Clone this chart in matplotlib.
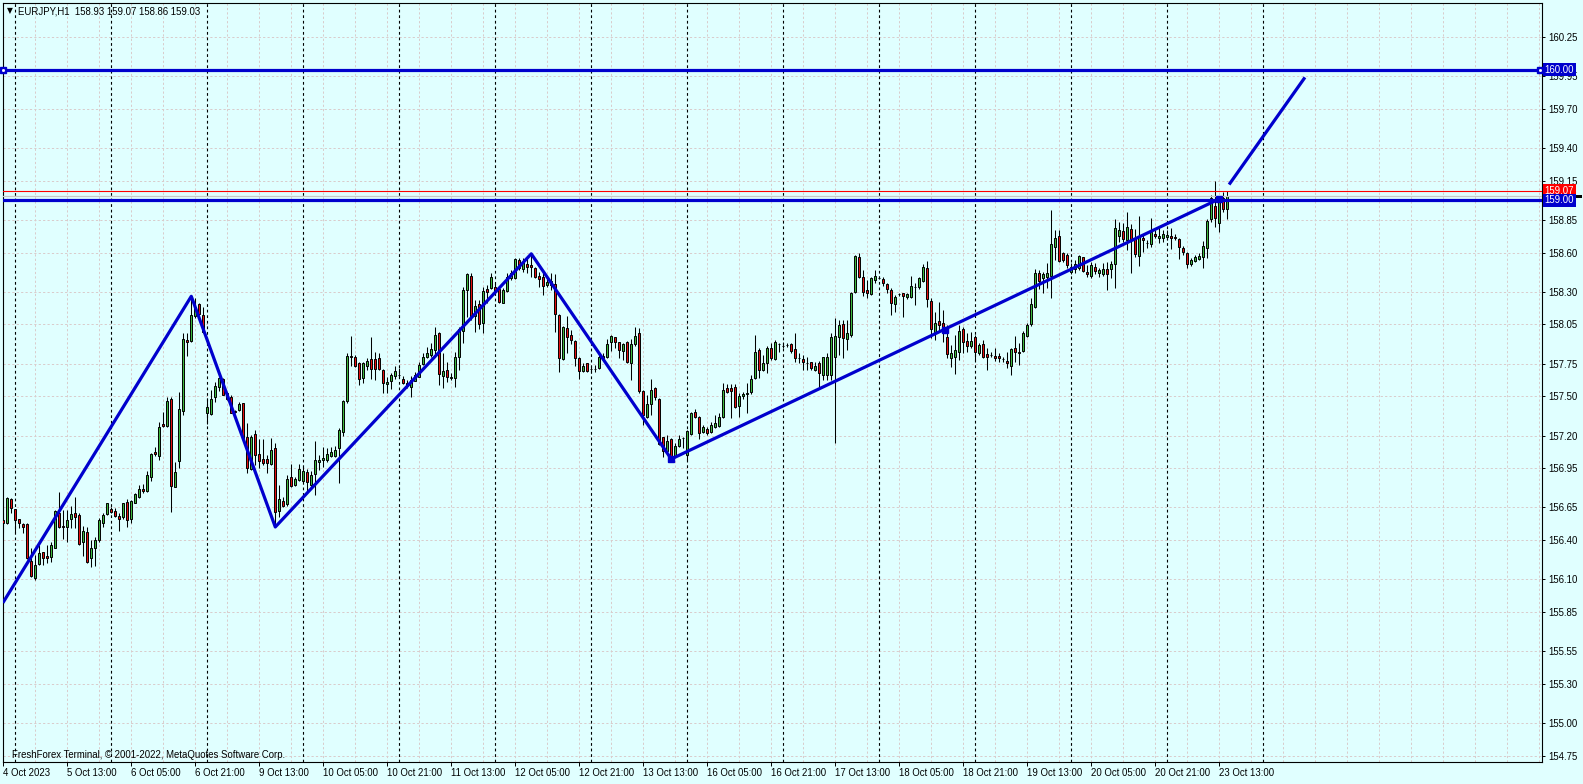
import numpy as np
import matplotlib
matplotlib.use('Agg')
import matplotlib.pyplot as plt
from matplotlib.patches import Rectangle
from matplotlib import transforms

W, H, DPI = 1583, 784, 100
plt.rcParams['font.family'] = ['Liberation Sans', 'DejaVu Sans']

# --- data (EURJPY H1, bar 0 = 4 Oct 21:00) ---
header = 'EURJPY,H1  158.93 159.07 158.86 159.03'
footer = 'FreshForex Terminal, \u00a9 2001-2022, MetaQuotes Software Corp.'

opens = [
    156.553, 156.528, 156.712, 156.635, 156.558, 156.520, 156.520, 156.243, 156.112, 156.214,
    156.306, 156.278, 156.268, 156.342, 156.604, 156.507, 156.497, 156.558, 156.604, 156.589,
    156.388, 156.459, 156.265, 156.342, 156.400, 156.533, 156.597, 156.635, 156.622, 156.584,
    156.579, 156.694, 156.564, 156.686, 156.732, 156.788, 156.775, 156.885, 157.074, 157.046,
    157.285, 157.273, 157.477, 156.808, 157.007, 157.390, 157.930, 157.923, 158.114, 158.206,
    158.122, 157.375, 157.364, 157.492, 157.568, 157.632, 157.522, 157.492, 157.390, 157.395,
    157.446, 157.186, 156.941, 157.209, 157.056, 157.020, 157.020, 156.980, 157.102, 156.625,
    156.699, 156.673, 156.880, 156.821, 156.859, 156.854, 156.918, 156.821, 156.903, 156.995,
    157.013, 157.013, 157.043, 157.043, 157.102, 157.229, 157.464, 157.805, 157.798, 157.752,
    157.637, 157.732, 157.785, 157.785, 157.790, 157.701, 157.594, 157.619, 157.655, 157.665,
    157.630, 157.604, 157.574, 157.619, 157.650, 157.747, 157.798, 157.816, 157.854, 157.981,
    157.658, 157.701, 157.637, 157.637, 157.803, 158.000, 158.313, 158.420, 158.114, 158.206,
    158.058, 158.318, 158.326, 158.339, 158.318, 158.216, 158.308, 158.402, 158.402, 158.543,
    158.474, 158.512, 158.504, 158.479, 158.420, 158.410, 158.349, 158.382, 158.357, 158.122,
    157.782, 158.020, 157.969, 157.923, 157.790, 157.696, 157.752, 157.706, 157.706, 157.719,
    157.790, 157.798, 157.913, 157.951, 157.913, 157.849, 157.913, 157.757, 157.897, 157.982,
    157.540, 157.344, 157.441, 157.566, 157.477, 157.186, 157.084, 157.173, 157.046, 157.122,
    157.178, 157.051, 157.209, 157.377, 157.339, 157.229, 157.247, 157.229, 157.267, 157.272,
    157.344, 157.566, 157.566, 157.573, 157.428, 157.505, 157.515, 157.535, 157.637, 157.854,
    157.701, 157.757, 157.867, 157.785, 157.897, 157.885, 157.890, 157.897, 157.859, 157.790,
    157.785, 157.752, 157.760, 157.701, 157.757, 157.663, 157.663, 157.663, 157.803, 157.956,
    158.053, 157.936, 157.969, 158.300, 158.568, 158.410, 158.313, 158.283, 158.390, 158.407,
    158.395, 158.357, 158.313, 158.203, 158.280, 158.288, 158.257, 158.262, 158.339, 158.339,
    158.385, 158.479, 158.229, 157.994, 158.076, 158.058, 157.951, 157.795, 157.803, 157.841,
    158.015, 157.923, 157.887, 157.951, 157.829, 157.900, 157.823, 157.816, 157.808, 157.808,
    157.785, 157.770, 157.734, 157.867, 157.836, 157.849, 157.964, 158.050, 158.186, 158.446,
    158.402, 158.415, 158.423, 158.645, 158.726, 158.594, 158.581, 158.453, 158.471, 158.479,
    158.563, 158.453, 158.423, 158.487, 158.441, 158.436, 158.474, 158.474, 158.512, 158.729,
    158.765, 158.693, 158.780, 158.708, 158.576, 158.708, 158.675, 158.662, 158.741, 158.708,
    158.708, 158.716, 158.726, 158.721, 158.701, 158.632, 158.594, 158.512, 158.535, 158.550,
    158.563, 158.637, 158.854, 158.956, 158.828, 159.019, 158.930,
]
highs = [
    156.604, 156.732, 156.720, 156.640, 156.560, 156.530, 156.533, 156.337, 156.286, 156.362,
    156.310, 156.362, 156.388, 156.630, 156.768, 156.630, 156.630, 156.661, 156.727, 156.604,
    156.507, 156.502, 156.400, 156.426, 156.566, 156.604, 156.686, 156.655, 156.648, 156.604,
    156.686, 156.712, 156.707, 156.757, 156.821, 156.829, 156.928, 157.064, 157.114, 157.306,
    157.382, 157.497, 157.497, 157.000, 157.535, 157.987, 157.982, 158.265, 158.250, 158.216,
    158.185, 157.484, 157.548, 157.612, 157.650, 157.637, 157.535, 157.510, 157.395, 157.459,
    157.451, 157.293, 157.204, 157.242, 157.171, 157.173, 157.051, 157.178, 157.145, 156.821,
    156.732, 156.898, 156.982, 156.880, 156.979, 156.961, 156.941, 156.931, 157.158, 157.051,
    157.109, 157.102, 157.114, 157.122, 157.255, 157.472, 157.829, 157.961, 157.816, 157.765,
    157.765, 157.790, 157.951, 157.841, 157.829, 157.706, 157.645, 157.680, 157.732, 157.714,
    157.655, 157.625, 157.655, 157.688, 157.765, 157.834, 157.879, 157.905, 158.027, 157.994,
    157.829, 157.765, 157.680, 157.841, 158.027, 158.339, 158.446, 158.446, 158.237, 158.237,
    158.339, 158.351, 158.441, 158.364, 158.339, 158.326, 158.446, 158.466, 158.555, 158.555,
    158.555, 158.555, 158.594, 158.492, 158.453, 158.441, 158.410, 158.441, 158.433, 158.130,
    158.037, 158.114, 158.007, 157.931, 157.803, 157.752, 157.757, 157.732, 157.740, 157.816,
    157.834, 157.936, 157.969, 157.956, 157.918, 157.910, 157.923, 157.936, 158.027, 158.020,
    157.548, 157.510, 157.630, 157.573, 157.484, 157.191, 157.204, 157.178, 157.145, 157.204,
    157.191, 157.242, 157.382, 157.400, 157.349, 157.280, 157.267, 157.306, 157.357, 157.369,
    157.599, 157.594, 157.594, 157.594, 157.522, 157.535, 157.599, 157.663, 157.969, 157.867,
    157.816, 157.885, 157.905, 157.931, 157.905, 157.918, 157.905, 157.910, 157.982, 157.829,
    157.816, 157.803, 157.765, 157.765, 157.772, 157.798, 157.829, 157.982, 158.096, 158.084,
    158.084, 158.084, 158.300, 158.581, 158.599, 158.466, 158.390, 158.410, 158.466, 158.420,
    158.415, 158.369, 158.326, 158.275, 158.288, 158.293, 158.288, 158.420, 158.364, 158.415,
    158.512, 158.535, 158.249, 158.147, 158.224, 158.160, 158.045, 157.893, 157.969, 158.045,
    158.033, 157.982, 157.994, 157.969, 157.905, 157.931, 157.867, 157.841, 157.867, 157.829,
    157.803, 157.841, 157.872, 157.964, 157.905, 157.999, 158.058, 158.255, 158.474, 158.466,
    158.453, 158.517, 158.925, 158.772, 158.772, 158.606, 158.594, 158.517, 158.543, 158.581,
    158.568, 158.504, 158.525, 158.517, 158.479, 158.517, 158.525, 158.535, 158.856, 158.836,
    158.823, 158.907, 158.816, 158.780, 158.882, 158.734, 158.696, 158.867, 158.772, 158.798,
    158.772, 158.772, 158.785, 158.742, 158.708, 158.652, 158.606, 158.560, 158.581, 158.594,
    158.691, 158.856, 159.040, 159.147, 159.035, 159.066, 159.070,
]
lows = [
    156.464, 156.523, 156.604, 156.464, 156.490, 156.451, 156.253, 156.120, 156.094, 156.209,
    156.209, 156.227, 156.235, 156.337, 156.490, 156.406, 156.388, 156.490, 156.490, 156.362,
    156.278, 156.227, 156.196, 156.201, 156.388, 156.497, 156.592, 156.604, 156.579, 156.472,
    156.558, 156.502, 156.528, 156.681, 156.719, 156.757, 156.770, 156.854, 157.046, 157.013,
    157.268, 157.268, 156.617, 156.803, 156.949, 157.357, 157.808, 157.918, 158.096, 158.122,
    157.982, 157.288, 157.357, 157.459, 157.543, 157.510, 157.472, 157.370, 157.375, 157.390,
    157.171, 156.910, 156.936, 156.974, 156.949, 156.974, 156.910, 156.974, 156.502, 156.579,
    156.655, 156.663, 156.808, 156.816, 156.854, 156.847, 156.770, 156.796, 156.745, 156.936,
    156.961, 157.000, 157.038, 157.038, 156.839, 157.196, 157.446, 157.732, 157.727, 157.587,
    157.604, 157.701, 157.630, 157.625, 157.701, 157.522, 157.522, 157.553, 157.630, 157.650,
    157.594, 157.561, 157.497, 157.619, 157.645, 157.740, 157.790, 157.798, 157.816, 157.587,
    157.561, 157.612, 157.625, 157.574, 157.701, 157.905, 158.109, 158.084, 157.994, 158.012,
    157.981, 158.211, 158.318, 158.275, 158.211, 158.211, 158.295, 158.390, 158.395, 158.466,
    158.453, 158.441, 158.415, 158.402, 158.339, 158.275, 158.339, 158.313, 157.994, 157.688,
    157.777, 157.829, 157.900, 157.732, 157.630, 157.688, 157.688, 157.680, 157.688, 157.706,
    157.777, 157.790, 157.849, 157.867, 157.790, 157.777, 157.757, 157.625, 157.885, 157.528,
    157.280, 157.331, 157.357, 157.472, 157.127, 157.033, 157.064, 157.008, 157.033, 157.109,
    157.102, 157.013, 157.204, 157.331, 157.173, 157.216, 157.204, 157.216, 157.255, 157.267,
    157.331, 157.522, 157.331, 157.408, 157.344, 157.477, 157.369, 157.518, 157.630, 157.637,
    157.696, 157.675, 157.777, 157.777, 157.841, 157.867, 157.879, 157.829, 157.765, 157.757,
    157.701, 157.701, 157.701, 157.693, 157.574, 157.625, 157.625, 157.625, 157.140, 157.816,
    157.790, 157.854, 157.956, 158.288, 158.402, 158.267, 158.249, 158.275, 158.364, 158.395,
    158.344, 158.288, 158.122, 158.147, 158.267, 158.109, 158.242, 158.249, 158.198, 158.318,
    158.377, 158.185, 157.943, 157.931, 157.994, 157.918, 157.790, 157.727, 157.668, 157.778,
    157.829, 157.841, 157.867, 157.778, 157.816, 157.790, 157.701, 157.803, 157.770, 157.760,
    157.765, 157.719, 157.663, 157.765, 157.740, 157.841, 157.956, 158.040, 158.178, 158.321,
    158.288, 158.326, 158.254, 158.543, 158.525, 158.525, 158.484, 158.433, 158.441, 158.466,
    158.453, 158.415, 158.407, 158.433, 158.415, 158.423, 158.313, 158.402, 158.326, 158.683,
    158.683, 158.619, 158.446, 158.568, 158.499, 158.606, 158.632, 158.645, 158.708, 158.670,
    158.683, 158.696, 158.627, 158.696, 158.550, 158.581, 158.484, 158.499, 158.525, 158.543,
    158.484, 158.560, 158.836, 158.792, 158.759, 158.907, 158.860,
]
closes = [
    156.528, 156.719, 156.648, 156.553, 156.528, 156.502, 156.260, 156.125, 156.209, 156.298,
    156.265, 156.260, 156.362, 156.622, 156.502, 156.497, 156.553, 156.597, 156.579, 156.370,
    156.469, 156.235, 156.342, 156.400, 156.553, 156.589, 156.681, 156.617, 156.587, 156.564,
    156.681, 156.553, 156.699, 156.750, 156.791, 156.775, 156.898, 157.058, 157.056, 157.265,
    157.273, 157.466, 156.816, 156.923, 157.400, 157.936, 157.918, 158.122, 158.185, 158.129,
    157.989, 157.415, 157.479, 157.579, 157.637, 157.510, 157.477, 157.375, 157.382, 157.441,
    157.178, 156.949, 157.191, 157.051, 157.007, 156.992, 156.987, 157.089, 156.617, 156.711,
    156.663, 156.864, 156.816, 156.864, 156.941, 156.928, 156.842, 156.895, 157.013, 157.013,
    157.025, 157.056, 157.076, 157.089, 157.242, 157.464, 157.808, 157.803, 157.732, 157.630,
    157.752, 157.770, 157.706, 157.706, 157.706, 157.599, 157.612, 157.663, 157.696, 157.663,
    157.604, 157.581, 157.625, 157.663, 157.740, 157.803, 157.829, 157.862, 157.969, 157.668,
    157.693, 157.650, 157.650, 157.803, 158.012, 158.313, 158.433, 158.109, 158.191, 158.053,
    158.306, 158.300, 158.410, 158.300, 158.219, 158.313, 158.410, 158.441, 158.548, 158.484,
    158.530, 158.492, 158.487, 158.415, 158.400, 158.344, 158.377, 158.351, 158.130, 157.790,
    158.027, 157.956, 157.931, 157.790, 157.696, 157.734, 157.693, 157.706, 157.706, 157.798,
    157.808, 157.897, 157.961, 157.918, 157.854, 157.900, 157.765, 157.897, 157.964, 157.540,
    157.357, 157.441, 157.548, 157.497, 157.135, 157.084, 157.158, 157.033, 157.120, 157.171,
    157.178, 157.234, 157.369, 157.344, 157.216, 157.262, 157.216, 157.280, 157.293, 157.344,
    157.548, 157.535, 157.543, 157.415, 157.505, 157.515, 157.528, 157.630, 157.836, 157.701,
    157.752, 157.867, 157.790, 157.918, 157.897, 157.885, 157.890, 157.846, 157.795, 157.790,
    157.760, 157.752, 157.719, 157.734, 157.675, 157.798, 157.803, 157.956, 157.961, 158.045,
    157.948, 157.982, 158.288, 158.573, 158.415, 158.300, 158.288, 158.402, 158.420, 158.407,
    158.369, 158.318, 158.211, 158.257, 158.280, 158.270, 158.280, 158.346, 158.339, 158.402,
    158.487, 158.242, 158.012, 158.063, 158.045, 158.000, 157.821, 157.829, 157.854, 158.000,
    157.913, 157.887, 157.925, 157.836, 157.893, 157.803, 157.803, 157.816, 157.795, 157.790,
    157.785, 157.752, 157.862, 157.836, 157.829, 157.982, 158.045, 158.204, 158.441, 158.382,
    158.436, 158.441, 158.662, 158.714, 158.537, 158.543, 158.504, 158.492, 158.509, 158.573,
    158.461, 158.433, 158.504, 158.461, 158.466, 158.474, 158.436, 158.509, 158.785, 158.772,
    158.701, 158.798, 158.696, 158.589, 158.721, 158.693, 158.675, 158.754, 158.724, 158.726,
    158.739, 158.734, 158.708, 158.708, 158.640, 158.601, 158.509, 158.543, 158.563, 158.576,
    158.650, 158.841, 159.019, 158.861, 159.019, 158.933, 159.030,
]

time_labels = ['4 Oct 2023', '5 Oct 13:00', '6 Oct 05:00', '6 Oct 21:00', '9 Oct 13:00',
               '10 Oct 05:00', '10 Oct 21:00', '11 Oct 13:00', '12 Oct 05:00', '12 Oct 21:00',
               '13 Oct 13:00', '16 Oct 05:00', '16 Oct 21:00', '17 Oct 13:00', '18 Oct 05:00',
               '18 Oct 21:00', '19 Oct 13:00', '20 Oct 05:00', '20 Oct 21:00', '23 Oct 13:00']
day_start_bars = [3, 27, 51, 75, 99, 123, 147, 171, 195, 219, 243, 267, 291, 315]
price_ticks = [160.25, 159.95, 159.70, 159.40, 159.15, 158.85, 158.60, 158.30, 158.05,
               157.75, 157.50, 157.20, 156.95, 156.65, 156.40, 156.10, 155.85, 155.55,
               155.30, 155.00, 154.75]

zigzag_bars = [-0.1, 47, 68, 132, 167]
zigzag_prices = [155.92, 158.265, 156.50, 158.59, 157.02]
trend_bars = [167, 304]
trend_prices = [157.02, 159.01]
trend_anchor_bars = [167, 235.4, 304]
trend_anchor_prices = [157.02, 158.01, 159.01]
proj_bars = [306.7, 325.2]
proj_prices = [159.13, 159.93]
level_160 = 160.00
level_159 = 159.00
ask_price = 159.07
bid_price = 159.03

# --- style ---
bg = '#E0FFFF'
blue = '#0000CD'
bull = '#3CB83C'
bear = '#E31010'
gridc = '#D9CCCC'
fs = 6.9

fig = plt.figure(figsize=(W / DPI, H / DPI), dpi=DPI, facecolor=bg)
ax = fig.add_axes([2.7 / W, 1 - 762 / H, (1542 - 2.7) / W, (762 - 3) / H])
ax.set_facecolor(bg)
ax.set_xlim(-0.15, 384.7)
ax.set_ylim(154.702, 160.509)

# grid
for p in price_ticks:
    ax.axhline(p, color=gridc, lw=0.72, dashes=(2.2, 2.2), zorder=0)
for b in range(0, 385, 8):
    ax.axvline(b, color=gridc, lw=0.72, dashes=(2.2, 2.2), zorder=0)
for b in day_start_bars:
    ax.axvline(b, color='black', lw=0.8, dashes=(2.5, 2.5), zorder=1)

# candles
o, hi, lo, c = (np.array(a) for a in (opens, highs, lows, closes))
x = np.arange(len(o))
ax.vlines(x, lo, hi, colors='black', lw=0.75, zorder=2)
cols = np.where(c > o, bull, bear)
ax.bar(x, np.abs(c - o), bottom=np.minimum(o, c), width=0.55, color=cols,
       edgecolor='black', linewidth=0.7, zorder=3)

# bid / ask lines
ax.axhline(bid_price, color='#C8C8C8', lw=0.9, zorder=4)
ax.axhline(ask_price, color='#FF0000', lw=0.8, zorder=4)

# horizontal levels
ax.axhline(level_160, color=blue, lw=2.3, zorder=5)
ax.axhline(level_159, color=blue, lw=2.3, zorder=5)
ax.plot([-0.1, 384.2], [level_160, level_160], ls='none', marker='s', ms=4.5,
        mfc=blue, mec=blue, zorder=6, clip_on=False)
ax.plot([-0.1, 384.2], [level_160, level_160], ls='none', marker='s', ms=1.0,
        mfc='white', mec='white', zorder=7, clip_on=False)

# zigzag and trend lines
ax.plot(zigzag_bars, zigzag_prices, color=blue, lw=2.3, zorder=5, solid_capstyle='butt')
ax.plot(trend_bars, trend_prices, color=blue, lw=2.3, zorder=5)
ax.plot(trend_anchor_bars, trend_anchor_prices, ls='none', marker='s', ms=4.5,
        color=blue, zorder=6)
ax.plot(proj_bars, proj_prices, color=blue, lw=2.3, zorder=5)

# axes styling
for s in ax.spines.values():
    s.set_color('black')
    s.set_linewidth(0.8)
ax.yaxis.tick_right()
ax.set_yticks(price_ticks)
ax.set_yticklabels(['%.2f' % p for p in price_ticks], fontsize=fs)
ax.tick_params(axis='y', length=2.3, width=0.7, pad=2.5, colors='black')
label_bars = [16 * k for k in range(len(time_labels))]
ax.set_xticks(label_bars)
ax.set_xticklabels(time_labels, fontsize=fs, ha='left')
ax.tick_params(axis='x', length=3.0, width=0.7, pad=1.2, colors='black')

# price boxes on the right scale
def price_box(price, text, face, z):
    ax.annotate(text, xy=(1, price), xycoords=('axes fraction', 'data'),
                xytext=(1.8, 0), textcoords='offset points', ha='left', va='center',
                fontsize=fs, color='white', annotation_clip=False, zorder=z,
                bbox=dict(boxstyle='square,pad=0.18', fc=face, ec='none'))

price_box(ask_price, '%.2f' % ask_price, '#FF0000', 10)
# bid label is almost fully hidden behind the 159.00 box: only a dark sliver shows
bid_tr = transforms.blended_transform_factory(ax.transAxes, ax.transData)
ax.add_patch(Rectangle((1.0016, bid_price - 0.012), 0.0245, 0.024, transform=bid_tr,
                       fc='black', ec='none', zorder=11, clip_on=False))
price_box(level_159, '%.2f' % level_159, blue, 12)
price_box(level_160, '%.2f' % level_160, blue, 12)

# header & footer
fig.text(6.5 / W, 1 - 11 / H, '\u25bc', fontsize=5.5, va='center', ha='left',
         family=['DejaVu Sans'])
fig.text(18 / W, 1 - 11 / H, header, fontsize=fs, va='center', ha='left')
fig.text(12 / W, 1 - 755 / H, footer, fontsize=fs, va='center', ha='left')

fig.savefig('out.png', dpi=DPI, facecolor=bg)
